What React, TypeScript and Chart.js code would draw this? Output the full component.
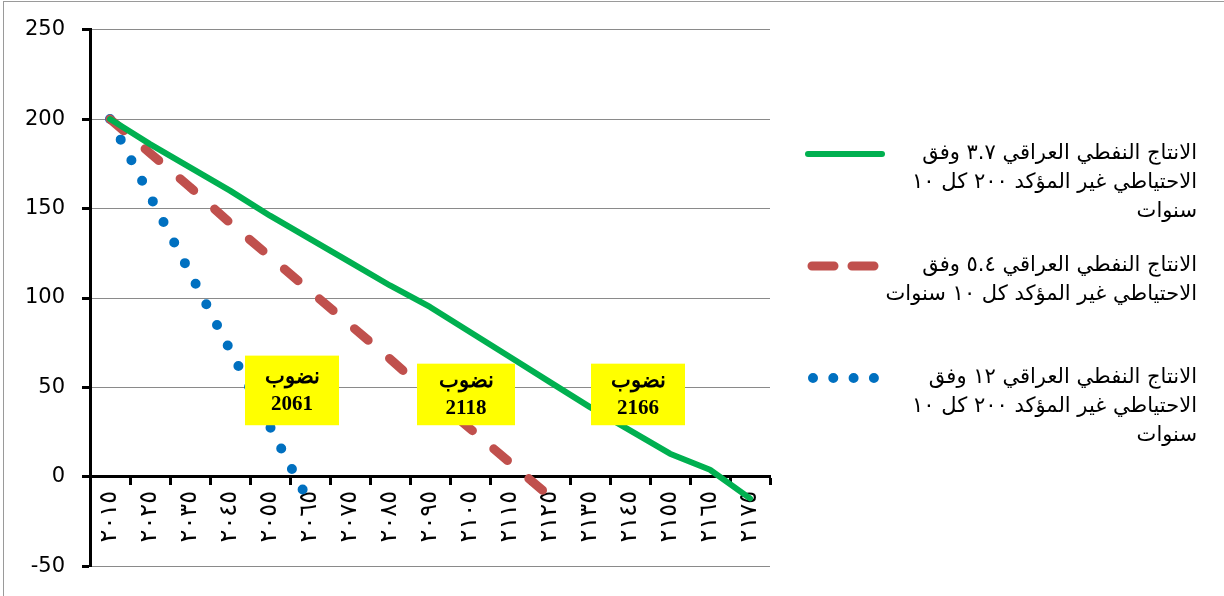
import React, { useEffect, useRef } from "react";
import { Chart, registerables } from "chart.js";

Chart.register(...registerables);

// ---- data ----
const categories = [
  "٢٠١٥", "٢٠٢٥", "٢٠٣٥", "٢٠٤٥", "٢٠٥٥", "٢٠٦٥", "٢٠٧٥", "٢٠٨٥", "٢٠٩٥",
  "٢١٠٥", "٢١١٥", "٢١٢٥", "٢١٣٥", "٢١٤٥", "٢١٥٥", "٢١٦٥", "٢١٧٥",
];
const greenValues = [200, 186, 173, 160, 146, 133, 120, 107, 95, 81, 67, 53, 39, 26, 13, 4, -12];
const redValues = [200, 181, 162, 142, 123, 104, 85, 66, 46, 27, 8, -11];
const blueValues = [200, 157, 114, 71, 28, -15];

const greenLabel = ["الانتاج النفطي العراقي ٣.٧ وفق", "الاحتياطي غير المؤكد ٢٠٠ كل ١٠", "سنوات"];
const redLabel = ["الانتاج النفطي العراقي ٥.٤ وفق", "الاحتياطي غير المؤكد كل ١٠ سنوات"];
const blueLabel = ["الانتاج النفطي العراقي ١٢ وفق", "الاحتياطي غير المؤكد ٢٠٠ كل ١٠", "سنوات"];

const yMin = -50;
const yMax = 250;
const yStep = 50;

// depletion call-outs: extents in data space (category index, value)
const depletionWord = "نضوب";
const depletionYears = ["2061", "2118", "2166"];
const depletionFrom = [3.375, 7.675, 12.025];
const depletionTo = [5.725, 10.125, 14.375];
const depletionTop = [67.8, 63.3, 63.3];
const depletionBottom = [28.9, 28.9, 28.9];

const GREEN = "#00B050";
const RED = "#C0504D";
const BLUE = "#0070C0";

const legendPlugin = {
  id: "rtlLegend",
  afterDraw(chart: any) {
    const ctx = chart.ctx;
    const area = chart.chartArea;
    const symStart = area.right + 38;
    const symEnd = area.right + 112;
    const textRight = chart.width - 27;
    const firstY = 154;
    const entryGap = 112;
    const lineH = 29;
    ctx.save();
    chart.data.datasets.forEach((ds: any, i: number) => {
      const y0 = firstY + entryGap * i;
      ctx.save();
      ctx.strokeStyle = ds.borderColor;
      ctx.lineWidth = ds.borderWidth;
      ctx.lineCap = "round";
      if (ds.legendDash) ctx.setLineDash(ds.legendDash);
      ctx.beginPath();
      ctx.moveTo(symStart + (ds.legendInset || 0), y0);
      ctx.lineTo(symEnd, y0);
      ctx.stroke();
      ctx.restore();
      ctx.save();
      ctx.fillStyle = "#000";
      ctx.font = "21px 'DejaVu Sans', sans-serif";
      ctx.direction = "rtl";
      ctx.textAlign = "right";
      ctx.textBaseline = "middle";
      (ds.legendLines as string[]).forEach((t, j) => {
        ctx.fillText(t, textRight, y0 + j * lineH);
      });
      ctx.restore();
    });
    ctx.restore();
  },
};

const calloutPlugin = {
  id: "callouts",
  afterDatasetsDraw(chart: any) {
    const ctx = chart.ctx;
    const xs = chart.scales.x;
    const ys = chart.scales.y;
    ctx.save();
    depletionYears.forEach((yr, i) => {
      const l = xs.getPixelForValue(depletionFrom[i]);
      const r = xs.getPixelForValue(depletionTo[i]);
      const t = ys.getPixelForValue(depletionTop[i]);
      const b = ys.getPixelForValue(depletionBottom[i]);
      ctx.fillStyle = "#FFFF00";
      ctx.fillRect(l, t, r - l, b - t);
      const cx = (l + r) / 2;
      const cy = (t + b) / 2;
      ctx.fillStyle = "#000";
      ctx.textAlign = "center";
      ctx.textBaseline = "middle";
      ctx.font = "bold 21px 'Liberation Serif', 'DejaVu Serif', serif";
      ctx.fillText(depletionWord, cx, cy - 13);
      ctx.fillText(yr, cx, cy + 14);
    });
    ctx.restore();
  },
};

export default function App() {
  const ref = useRef<HTMLCanvasElement | null>(null);

  useEffect(() => {
    document.body.style.margin = "0";
    const canvas = ref.current!;
    const chart = new Chart(canvas, {
      type: "line",
      data: {
        labels: categories,
        datasets: [
          {
            label: greenLabel.join(" "),
            data: greenValues,
            borderColor: GREEN,
            backgroundColor: GREEN,
            borderWidth: 6,
            borderJoinStyle: "round",
            borderCapStyle: "round",
            pointRadius: 0,
            tension: 0,
            legendLines: greenLabel,
          } as any,
          {
            label: redLabel.join(" "),
            data: redValues,
            borderColor: RED,
            backgroundColor: RED,
            borderWidth: 9,
            borderDash: [18, 28],
            borderCapStyle: "round",
            borderJoinStyle: "round",
            pointRadius: 0,
            tension: 0,
            legendLines: redLabel,
            legendDash: [22, 18],
            legendInset: 4,
          } as any,
          {
            label: blueLabel.join(" "),
            data: blueValues,
            borderColor: BLUE,
            backgroundColor: BLUE,
            borderWidth: 10,
            borderDash: [0, 23.2],
            borderCapStyle: "round",
            borderJoinStyle: "round",
            pointRadius: 0,
            tension: 0,
            legendLines: blueLabel,
            legendDash: [0, 20.3],
            legendInset: 5,
          } as any,
        ],
      },
      options: {
        animation: false,
        responsive: false,
        devicePixelRatio: 1,
        layout: { padding: { left: 0, right: 454, top: 29, bottom: 27 } },
        plugins: {
          legend: { display: false },
          tooltip: { enabled: false },
        },
        scales: {
          x: {
            type: "category",
            position: { y: 0 } as any,
            offset: true,
            grid: {
              offset: true,
              drawOnChartArea: false,
              drawTicks: true,
              tickLength: 7,
              tickColor: "#000",
              tickWidth: 3,
            } as any,
            border: { display: true, color: "#000", width: 3 },
            ticks: {
              autoSkip: false,
              minRotation: 90,
              maxRotation: 90,
              padding: 7,
              color: "#000",
              font: { family: "'DejaVu Sans', sans-serif", size: 24 },
            },
          },
          y: {
            type: "linear",
            min: yMin,
            max: yMax,
            afterFit: (s: any) => {
              s.width = 90;
            },
            grid: {
              color: "#8a8a8a",
              lineWidth: 1,
              tickLength: 8,
              tickColor: "#000",
              tickWidth: 3,
            } as any,
            border: { display: true, color: "#000", width: 3 },
            ticks: {
              stepSize: yStep,
              padding: 17,
              color: "#000",
              font: { family: "'DejaVu Sans', sans-serif", size: 21 },
            },
          },
        },
      },
      plugins: [calloutPlugin, legendPlugin],
    });
    return () => chart.destroy();
  }, []);

  return (
    <div style={{ position: "relative", width: 1224, height: 596, background: "#fff", overflow: "hidden" }}>
      <canvas ref={ref} width={1224} height={596} style={{ width: 1224, height: 596, display: "block" }} />
      <div
        style={{
          position: "absolute",
          left: 3,
          top: 1,
          width: 1300,
          height: 700,
          borderLeft: "1px solid #9a9a9a",
          borderTop: "1px solid #9a9a9a",
          pointerEvents: "none",
        }}
      />
    </div>
  );
}
